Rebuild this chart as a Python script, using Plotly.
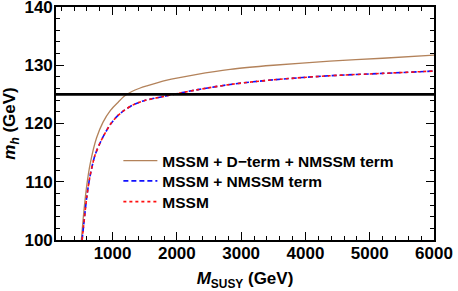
import plotly.graph_objects as go

# MSSM + D-term + NMSSM term
m_dterm = [515, 550, 600, 650, 750, 850, 970, 1090, 1190, 1300, 1420, 1532, 1830, 2295, 2829, 3500, 4380, 5200, 6000]
mh_dterm = [100.0, 104.5, 109.5, 113.0, 117.5, 120.2, 122.3, 123.7, 124.75, 125.5, 126.05, 126.45, 127.4, 128.4, 129.3, 130.0, 130.7, 131.2, 131.75]

# MSSM + NMSSM term
m_nmssm = [526, 550, 600, 650, 725, 820, 950, 1050, 1150, 1320, 1500, 1780, 1970, 2295, 2829, 3500, 4380, 5200, 6000]
mh_nmssm = [100.0, 102.5, 107.5, 111.0, 114.5, 117.0, 119.6, 121.0, 122.0, 123.2, 123.95, 124.6, 125.05, 125.75, 126.7, 127.5, 128.2, 128.6, 129.0]

# MSSM
m_mssm = [526, 550, 600, 650, 725, 820, 950, 1050, 1150, 1320, 1500, 1780, 1970, 2295, 2829, 3500, 4380, 5200, 6000]
mh_mssm = [100.0, 102.5, 107.5, 111.0, 114.5, 117.0, 119.6, 121.0, 122.0, 123.2, 123.95, 124.6, 125.05, 125.75, 126.7, 127.5, 128.2, 128.6, 129.0]

series_names = ["MSSM + D\u2212term + NMSSM term", "MSSM + NMSSM term", "MSSM"]

higgs_mass = 125.0
x_range = [120, 6000]
y_range = [100, 140]
x_ticks = [1000, 2000, 3000, 4000, 5000, 6000]
y_ticks = [100, 110, 120, 130, 140]

FONT = "Liberation Sans, Arial, sans-serif"
BOLD = dict(family=FONT, color="black", weight="bold")

fig = go.Figure()
fig.add_trace(go.Scatter(x=m_dterm, y=mh_dterm, mode="lines", line_shape="spline",
                         name=series_names[0], legend="legend",
                         line=dict(color="#B3825A", width=1.3, smoothing=0.8)))
fig.add_trace(go.Scatter(x=m_nmssm, y=mh_nmssm, mode="lines", line_shape="spline",
                         name=series_names[1], legend="legend2",
                         line=dict(color="#1010FF", width=1.6, dash="5px,3px", smoothing=0.8)))
fig.add_trace(go.Scatter(x=m_mssm, y=mh_mssm, mode="lines", line_shape="spline",
                         name=series_names[2], legend="legend3",
                         line=dict(color="#FF1010", width=1.6, dash="dot", smoothing=0.8)))

fig.add_shape(type="line", xref="x domain", yref="y", x0=0, x1=1,
              y0=higgs_mass, y1=higgs_mass, line=dict(color="black", width=2.6))

axis_common = dict(
    showline=True, linecolor="black", linewidth=1.6, mirror="ticks",
    ticks="inside", ticklen=8, tickwidth=1.4, tickcolor="black",
    showgrid=False, zeroline=False, automargin=False,
    ticklabeloverflow="allow",
    tickfont=dict(size=17, **BOLD),
)

fig.update_xaxes(range=x_range, tickvals=x_ticks, ticklabelstandoff=-3,
                 minor=dict(ticks="inside", ticklen=4, tickwidth=1.2, tickcolor="black", dtick=200, tick0=0),
                 title=dict(text="<i>M</i><sub>SUSY</sub> (GeV)",
                            font=dict(size=17, **BOLD)),
                 **axis_common)
fig.update_yaxes(range=y_range, tickvals=y_ticks, ticklabelstandoff=-2,
                 minor=dict(ticks="inside", ticklen=4, tickwidth=1.2, tickcolor="black", dtick=2, tick0=100),
                 title=dict(text="<i>m<sub>h</sub></i> (GeV)",
                            font=dict(size=17, **BOLD)),
                 **axis_common)

leg_common = dict(x=0.165, xanchor="left", yanchor="middle",
                  bgcolor="rgba(0,0,0,0)", borderwidth=0,
                  font=dict(size=15.5, **BOLD), itemwidth=34)

fig.update_layout(
    width=458, height=291,
    margin=dict(l=56, r=24, t=7, b=51),
    paper_bgcolor="white", plot_bgcolor="white",
    showlegend=True,
    legend=dict(y=0.339, **leg_common),
    legend2=dict(y=0.252, **leg_common),
    legend3=dict(y=0.163, **leg_common),
)

fig.write_html("out.html", config={"displayModeBar": False},
               post_script="document.body.style.margin='0px';")
